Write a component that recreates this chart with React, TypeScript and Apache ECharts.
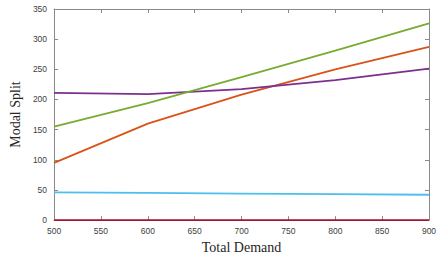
import React, { useEffect, useRef } from "react";
import * as echarts from "echarts";

const demand = [500, 600, 700, 800, 900];
const seriesA = [95, 160, 208, 250, 287]; // orange
const seriesB = [211, 209, 217, 232, 251]; // purple
const seriesC = [155, 194, 237, 281, 326]; // green
const seriesD = [46, 45, 44, 43, 42]; // cyan
const seriesE = [0, 0, 0, 0, 0]; // red

const xTicks = { min: 500, max: 900, interval: 50 };
const yTicks = { min: 0, max: 350, interval: 50 };

const defs = [
  { name: "A", data: seriesA, color: "#D95319" },
  { name: "B", data: seriesB, color: "#7E2F8E" },
  { name: "C", data: seriesC, color: "#77AC30" },
  { name: "D", data: seriesD, color: "#4DBEEE" },
  { name: "E", data: seriesE, color: "#A2142F" },
];

export default function App() {
  const ref = useRef<HTMLDivElement>(null);
  useEffect(() => {
    const chart = echarts.init(ref.current!, null, { renderer: "svg" });
    const axisLine = { show: true, onZero: false, lineStyle: { color: "#8a8a8a", width: 1 } };
    const tick = { show: true, inside: true, length: 4, lineStyle: { color: "#8a8a8a" } };
    const lbl = { color: "#404040", fontSize: 8.5, fontFamily: "Liberation Sans, Arial, sans-serif" };
    const titleStyle = { fontFamily: "Liberation Serif, Times New Roman, serif", fontSize: 14, color: "#262626" };
    chart.setOption({
      animation: false,
      backgroundColor: "#ffffff",
      grid: { left: 51, right: 11, top: 9, bottom: 35, containLabel: false },
      xAxis: [
        {
          type: "value",
          ...xTicks,
          position: "bottom",
          axisLine,
          axisTick: tick,
          axisLabel: { ...lbl, margin: 6 },
          splitLine: { show: false },
          name: "Total Demand",
          nameLocation: "middle",
          nameGap: 17,
          nameTextStyle: titleStyle,
        },
        {
          type: "value",
          ...xTicks,
          position: "top",
          axisLine,
          axisTick: tick,
          axisLabel: { show: false },
          splitLine: { show: false },
        },
      ],
      yAxis: [
        {
          type: "value",
          ...yTicks,
          position: "left",
          axisLine,
          axisTick: tick,
          axisLabel: { ...lbl, margin: 7 },
          splitLine: { show: false },
          name: "Modal Split",
          nameLocation: "middle",
          nameGap: 22,
          nameTextStyle: titleStyle,
        },
        {
          type: "value",
          ...yTicks,
          position: "right",
          axisLine,
          axisTick: tick,
          axisLabel: { show: false },
          splitLine: { show: false },
        },
      ],
      series: defs.map((d) => ({
        name: d.name,
        type: "line",
        data: demand.map((x, i) => [x, d.data[i]]),
        showSymbol: false,
        clip: false,
        lineStyle: { color: d.color, width: 1.8 },
        itemStyle: { color: d.color },
      })),
    });
    return () => chart.dispose();
  }, []);
  return <div ref={ref} style={{ position: "fixed", left: 0, top: 0, width: 440, height: 259 }} />;
}
